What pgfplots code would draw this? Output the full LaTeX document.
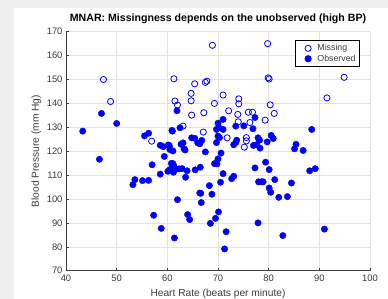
\documentclass[border=0pt]{standalone}
\usepackage{fontspec}
\setmainfont{Liberation Sans}
\usepackage{pgfplots}
\pgfplotsset{compat=1.18}
\definecolor{axgray}{RGB}{60,60,60}
\definecolor{gridgray}{RGB}{226,226,226}
\definecolor{bggray}{RGB}{240,240,240}
\begin{document}
\begin{tikzpicture}[x=1pt,y=1pt]
\useasboundingbox (-66,-28.3) rectangle (322,270.7);
\clip (-66,-28.3) rectangle (322,270.7);
\fill[bggray] (-66,-28.3) rectangle (322,270.7);
\fill[white] (-52,-28.3) rectangle (322,262.7);
\begin{axis}[
  at={(0,0)}, anchor=south west,
  scale only axis, width=304pt, height=239pt,
  xmin=40, xmax=100, ymin=70, ymax=170,
  xtick={40,50,...,100}, ytick={70,80,...,170},
  grid=major, major grid style={gridgray, line width=0.5pt},
  axis x line*=bottom, axis y line*=left,
  axis line style={-, axgray, line width=0.6pt},
  tick align=inside, major tick length=3pt,
  tick style={axgray, line width=0.5pt},
  ticklabel style={font=\fontsize{9.4}{10}\selectfont, text=axgray},
  xticklabel style={yshift=-0.5pt},
  /pgf/number format/assume math mode=true,
  title={\bfseries MNAR: Missingness depends on the unobserved (high BP)},
  title style={font=\fontsize{10.6}{12}\selectfont, at={(0.5,1)}, anchor=south, yshift=-2pt},
  xlabel={Heart Rate (beats per minute)},
  ylabel={Blood Pressure (mm Hg)},
  label style={font=\fontsize{10.2}{11}\selectfont, text=axgray},
  xlabel style={yshift=-1pt},
  ylabel style={yshift=-1pt},
  legend style={at={(0.967,0.965)}, anchor=north east, draw=black, line width=0.7pt,
    fill=white, font=\fontsize{8.8}{10}\selectfont, text=axgray, inner sep=2pt,
    row sep=-1.5pt},
  legend image code/.code={\path (0pt,0pt) (17pt,0pt); \draw[#1] plot coordinates {(10pt,0pt)};},
  legend cell align=left,
]
\addplot[only marks, mark=o, mark size=3.1pt, draw=blue, mark options={line width=0.8pt}] coordinates {
(47.4,150.0) (48.8,140.8) (56.9,124.2) (68.9,164.3) (79.8,165.0) (61.3,150.3)
(65.4,148.2) (67.5,148.8) (67.8,149.3) (64.7,144.2) (64.7,141.1) (61.5,141.0)
(62.0,139.3) (64.8,135.1) (67.2,136.1) (69.3,140.0) (71.0,143.5) (72.1,136.9)
(74.1,141.9) (74.1,139.8) (73.9,135.4) (74.0,132.3) (76.0,136.3) (76.8,136.3)
(76.3,132.0) (79.3,133.0) (81.1,135.8) (80.3,139.4) (79.9,150.7) (80.1,150.2)
(94.9,150.9) (91.5,142.3) (63.1,130.5) (67.1,128.0) (71.8,125.6) (75.6,125.7)
(75.6,124.3) (75.2,121.7) (66.4,123.4)
};
\addlegendentry{Missing}
\addplot[only marks, mark=*, mark size=3.2pt, draw=blue, fill=blue] coordinates {
(43.3,128.4) (47.0,135.8) (46.6,116.6) (50.0,131.6) (55.5,126.4) (56.3,127.5)
(53.2,106.0) (53.6,108.1) (55.1,107.7) (56.3,107.8) (57.0,114.3) (57.3,93.2)
(58.8,87.7) (58.6,110.4) (58.6,122.5) (59.2,121.9) (60.2,122.6) (59.4,117.8)
(60.4,122.2) (60.5,120.7) (61.1,120.1) (60.1,111.6) (60.5,112.3) (61.1,114.8)
(61.3,113.7) (61.2,111.2) (61.7,112.5) (60.9,128.7) (61.0,128.4) (61.9,136.9)
(62.5,129.8) (62.7,122.9) (63.1,123.5) (63.3,121.0) (62.3,112.6) (62.9,112.7)
(63.9,111.8) (63.6,109.1) (62.0,99.7) (64.0,93.5) (64.4,91.4) (61.4,83.7)
(64.8,125.6) (65.4,125.4) (66.0,123.5) (66.4,123.1) (66.8,124.5) (67.5,119.7)
(65.5,112.2) (66.5,113.3) (66.4,102.5) (66.6,102.4) (66.7,98.5) (68.3,105.6)
(68.8,102.0) (68.5,89.8) (69.5,91.9) (70.1,94.6) (69.3,114.8) (69.8,114.7)
(70.0,116.8) (70.5,107.0) (71.0,110.6) (70.6,119.2) (70.0,126.3) (70.3,125.7)
(69.7,123.6) (69.7,129.1) (70.2,129.8) (71.0,129.1) (70.0,131.7) (71.0,133.3)
(71.6,86.3) (71.3,79.1) (72.7,108.5) (73.1,109.5) (73.1,122.7) (73.5,123.6)
(73.7,124.6) (73.5,130.5) (75.1,130.6) (76.9,129.4) (77.3,134.1) (77.0,122.4)
(77.6,122.7) (77.3,113.0) (77.9,90.0) (77.9,125.6) (78.2,124.6) (78.3,121.3)
(78.0,107.2) (78.6,107.2) (78.9,107.2) (79.4,115.4) (79.7,123.9) (80.1,112.3)
(80.1,104.6) (80.4,102.8) (80.5,126.6) (80.9,125.3) (81.2,108.1) (82.0,100.7)
(82.8,84.7) (83.7,101.0) (84.5,106.7) (85.1,121.0) (85.4,122.9) (86.8,120.3)
(88.1,111.8) (89.2,112.7) (88.5,129.1) (91.0,87.4) (60.8,114.9) (61.2,112.8)
(63.5,120.5)
};
\addlegendentry{Observed}
\end{axis}
\end{tikzpicture}
\end{document}
